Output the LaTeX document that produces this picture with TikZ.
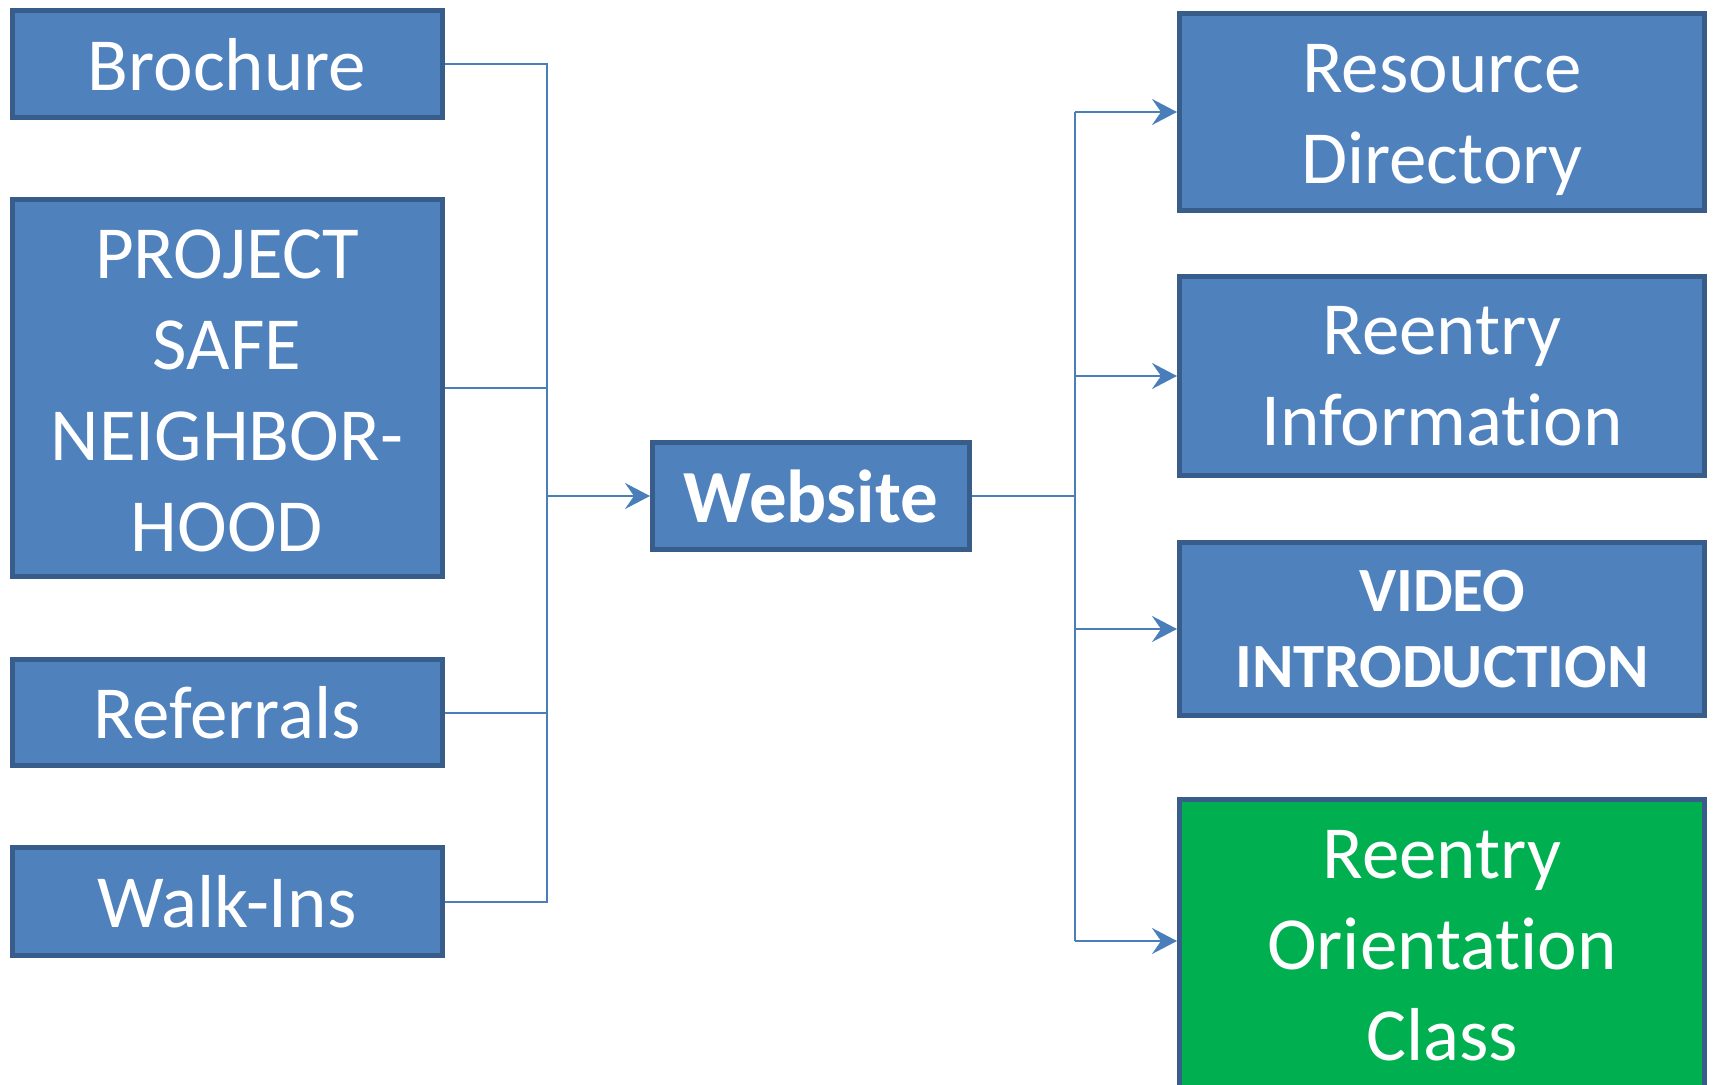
\documentclass[tikz,border=0pt]{standalone}
\usepackage{fontspec}
\setmainfont{Carlito}[Ligatures={NoCommon,NoContextual}]
\usetikzlibrary{arrows.meta}
\definecolor{boxfill}{HTML}{4F81BD}
\definecolor{boxline}{HTML}{385D8A}
\definecolor{conncol}{HTML}{4A7EBB}
\definecolor{greenfill}{HTML}{00B050}
\newcommand{\liftfirst}[1]{\rule{0pt}{#1}}
\tikzset{
  box/.style={draw=boxline, line width=2.5pt, fill=boxfill, text=white, align=center,
    inner sep=0pt, font=\fontsize{37.5}{45.5}\selectfont},
  conn/.style={draw=conncol, line width=1pt},
  arr/.style={conn, -{Stealth[length=12.5pt, width=13pt, inset=4.5pt]}}
}
\begin{document}
\begin{tikzpicture}[x=0.5pt, y=-0.5pt]
\useasboundingbox (0,0) rectangle (1714,1085);
% left boxes
\node[box, minimum width=215pt, minimum height=53.5pt] (broch) at (227,64.5) {Brochure};
\node[box, minimum width=215pt, minimum height=188.5pt] (proj) at (227,388) {\liftfirst{27pt}PROJECT\\SAFE\\NEIGHBOR-\\HOOD};
\node[box, minimum width=215pt, minimum height=53pt] (ref) at (227,712.5) {Referrals};
\node[box, minimum width=215pt, minimum height=54pt] (walk) at (227,901.5) {Walk-Ins};
% center
\node[box, minimum width=158.5pt, minimum height=53.5pt, font=\fontsize{37.5}{45.5}\selectfont\bfseries] (web) at (811,496) {Website};
% right boxes
\node[box, minimum width=262.5pt, minimum height=98.5pt] (res) at (1442,112) {\liftfirst{32pt}Resource\\Directory};
\node[box, minimum width=262.5pt, minimum height=99.5pt] (info) at (1442,376) {Reentry\\Information};
\node[box, minimum width=262.5pt, minimum height=86.5pt, font=\fontsize{31.5}{38}\selectfont\bfseries] (video) at (1442,629) {VIDEO\\INTRODUCTION};
\node[box, fill=greenfill, minimum width=262.5pt, minimum height=146.5pt] (orient) at (1442,946) {Reentry\\Orientation\\Class};
% buses
\coordinate (lbus) at (547,0);
\coordinate (rbus) at (1075,0);
\coordinate (otarget) at ([yshift=2.5pt]orient.west);
% left connectors
\draw[conn] (broch.east) -- (broch.east -| lbus) -- (walk.east -| lbus) -- (walk.east);
\draw[conn] (proj.east) -- (proj.east -| lbus);
\draw[conn] (ref.east) -- (ref.east -| lbus);
\draw[arr] (web.west -| lbus) -- (web.west);
% right connectors
\draw[conn] (web.east) -- (web.east -| rbus);
\draw[conn] (res.west -| rbus) -- (otarget -| rbus);
\draw[arr] (res.west -| rbus) -- (res.west);
\draw[arr] (info.west -| rbus) -- (info.west);
\draw[arr] (video.west -| rbus) -- (video.west);
\draw[arr] (otarget -| rbus) -- (otarget);
\end{tikzpicture}
\end{document}
